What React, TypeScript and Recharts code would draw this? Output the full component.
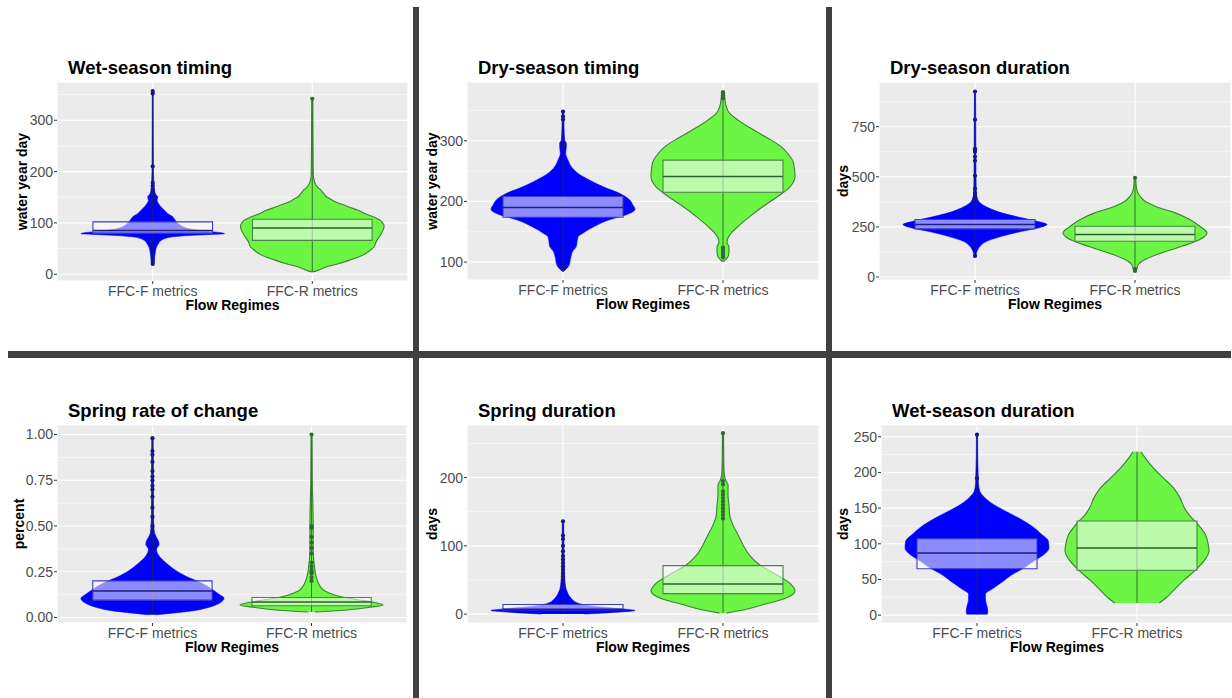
import React from 'react';
import {
  ComposedChart,
  Area,
  XAxis,
  YAxis,
  CartesianGrid,
  ReferenceArea,
  ReferenceLine,
  Scatter,
} from 'recharts';

// ---------------- shared ----------------
const CATEGORIES = ['FFC-F metrics', 'FFC-R metrics'];
const X_TITLE = 'Flow Regimes';

// ---------------- panel 1: Wet-season timing ----------------
const p1Ticks = [0, 100, 200, 300];
const p1TickLabels = ['0', '100', '200', '300'];
const p1Minor = [50, 150, 250, 350];
const p1Domain = [-13.2, 374.6];
const p1F_y = [18, 24, 32, 42, 52, 60, 66, 70, 73, 75.5, 77.5, 79, 80.5, 82.5, 85, 88, 92, 97, 102, 108, 113, 118, 125, 132, 138, 143, 147, 151, 155, 160, 168, 180, 200, 250, 300, 357];
const p1F_w = [0.01, 0.02, 0.025, 0.035, 0.05, 0.08, 0.12, 0.18, 0.28, 0.5, 0.8, 1.0, 0.97, 0.85, 0.66, 0.52, 0.43, 0.37, 0.33, 0.3, 0.27, 0.21, 0.16, 0.11, 0.08, 0.06, 0.065, 0.07, 0.045, 0.03, 0.02, 0.015, 0.01, 0.008, 0.007, 0.006];
const p1R_y = [4.5, 6, 10, 14, 20, 27, 34, 40, 47, 53, 60, 66, 72, 79, 87, 95, 100, 105, 110, 118, 125, 131, 136, 141, 146, 150, 157, 164, 170, 177, 185, 195, 220, 260, 300, 342];
const p1R_w = [0, 0.05, 0.12, 0.19, 0.35, 0.51, 0.65, 0.74, 0.81, 0.86, 0.88, 0.9, 0.93, 0.96, 0.99, 1.0, 0.98, 0.95, 0.88, 0.74, 0.63, 0.51, 0.42, 0.32, 0.26, 0.21, 0.16, 0.12, 0.07, 0.04, 0.023, 0.014, 0.012, 0.01, 0.009, 0.007];
const p1F_box = [80, 85, 102];
const p1R_box = [66, 90, 107];
const p1F_out = [20, 24, 30, 140, 143, 147, 150, 153, 157, 165, 172, 178, 210, 352, 357];
const p1R_out = [342];

// ---------------- panel 2: Dry-season timing ----------------
const p2Ticks = [100, 200, 300];
const p2TickLabels = ['100', '200', '300'];
const p2Minor = [150, 250, 350];
const p2Domain = [70.5, 396.8];
const p2F_y = [85, 90, 98, 104, 109, 117, 126, 134, 142, 148, 159, 170, 178, 187, 194, 202, 213, 224, 235, 246, 257, 268, 279, 290, 296, 301, 323, 348];
const p2F_w = [0.01, 0.056, 0.093, 0.1, 0.11, 0.13, 0.185, 0.195, 0.21, 0.28, 0.44, 0.65, 0.88, 1.0, 0.97, 0.93, 0.79, 0.56, 0.37, 0.21, 0.116, 0.07, 0.037, 0.046, 0.046, 0.023, 0.014, 0.01];
const p2R_y = [101, 104, 109, 117, 126, 132, 140, 148, 159, 175, 192, 208, 224, 241, 263, 279, 290, 301, 312, 323, 334, 345, 356, 367, 382];
const p2R_w = [0.01, 0.037, 0.07, 0.083, 0.083, 0.056, 0.07, 0.116, 0.21, 0.37, 0.56, 0.76, 0.93, 1.0, 0.98, 0.9, 0.81, 0.67, 0.51, 0.35, 0.21, 0.093, 0.046, 0.028, 0.018];
const p2F_box = [174, 190, 208];
const p2R_box = [215, 241, 268];
const p2F_out = [88, 92, 290, 294, 298, 335, 340, 348];
const p2R_out = [108, 112, 116, 120, 124, 370, 375, 380];

// ---------------- panel 3: Dry-season duration ----------------
const p3Ticks = [0, 250, 500, 750];
const p3TickLabels = ['0', '250', '500', '750'];
const p3Minor = [125, 375, 625, 875];
const p3Domain = [-15, 973];
const p3F_y = [103, 128, 153, 178, 203, 228, 245, 262, 278, 295, 320, 345, 370, 387, 420, 503, 637, 787, 925];
const p3F_w = [0.012, 0.028, 0.07, 0.16, 0.37, 0.65, 0.88, 1.0, 0.86, 0.65, 0.37, 0.185, 0.07, 0.037, 0.018, 0.014, 0.012, 0.01, 0.008];
const p3R_y = [28, 37, 62, 87, 120, 153, 187, 220, 253, 287, 320, 353, 378, 403, 437, 470, 495];
const p3R_w = [0.01, 0.023, 0.046, 0.14, 0.37, 0.65, 0.9, 1.0, 0.9, 0.76, 0.56, 0.28, 0.14, 0.07, 0.023, 0.014, 0.01];
const p3F_box = [240, 262, 287];
const p3R_box = [178, 212, 253];
const p3F_out = [105, 380, 392, 405, 420, 440, 505, 580, 600, 625, 635, 640, 785, 925];
const p3R_out = [30, 40, 495];

// ---------------- panel 4: Spring rate of change ----------------
const p4Ticks = [0, 0.25, 0.5, 0.75, 1];
const p4TickLabels = ['0.00', '0.25', '0.50', '0.75', '1.00'];
const p4Minor = [0.125, 0.375, 0.625, 0.875];
const p4Domain = [-0.03, 1.052];
const p4F_y = [0.015, 0.025, 0.036, 0.055, 0.082, 0.105, 0.127, 0.155, 0.191, 0.227, 0.264, 0.3, 0.336, 0.373, 0.4, 0.418, 0.445, 0.473, 0.58, 0.76, 0.98];
const p4F_w = [0.05, 0.3, 0.55, 0.78, 0.95, 1.0, 0.93, 0.83, 0.67, 0.46, 0.3, 0.185, 0.093, 0.056, 0.093, 0.083, 0.046, 0.023, 0.014, 0.014, 0.01];
const p4R_y = [0.03, 0.04, 0.055, 0.069, 0.082, 0.1, 0.118, 0.145, 0.173, 0.2, 0.236, 0.29, 0.364, 0.5, 0.76, 1.0];
const p4R_w = [0.05, 0.46, 0.79, 1.0, 0.88, 0.6, 0.37, 0.185, 0.116, 0.083, 0.056, 0.037, 0.023, 0.023, 0.01, 0.007];
const p4F_box = [0.095, 0.145, 0.2];
const p4R_box = [0.064, 0.085, 0.109];
const p4F_out = [0.4, 0.42, 0.44, 0.47, 0.5, 0.55, 0.6, 0.66, 0.7, 0.72, 0.75, 0.77, 0.8, 0.85, 0.89, 0.91, 0.98];
const p4R_out = [0.2, 0.22, 0.24, 0.25, 0.26, 0.28, 0.3, 0.35, 0.38, 0.41, 0.44, 0.49, 0.5, 1.0];

// ---------------- panel 5: Spring duration ----------------
const p5Ticks = [0, 100, 200];
const p5TickLabels = ['0', '100', '200'];
const p5Minor = [50, 150, 250];
const p5Domain = [-13, 277];
const p5F_y = [0, 2.5, 5.3, 8, 11, 16, 23, 33, 45, 60, 80, 100, 136];
const p5F_w = [0.3, 0.7, 1.0, 0.79, 0.46, 0.21, 0.116, 0.056, 0.03, 0.02, 0.015, 0.012, 0.01];
const p5R_y = [1.5, 6, 14, 23, 34, 45, 58, 72, 86, 101, 116, 130, 145, 160, 174, 189, 196, 210, 265];
const p5R_w = [0.05, 0.28, 0.56, 0.86, 1.0, 0.93, 0.74, 0.51, 0.37, 0.28, 0.21, 0.14, 0.093, 0.083, 0.07, 0.07, 0.037, 0.014, 0.007];
const p5F_box = [6, 7, 14];
const p5R_box = [30, 44, 71];
const p5F_out = [40, 45, 50, 55, 60, 65, 70, 75, 80, 85, 92, 100, 110, 115, 136];
const p5R_out = [140, 145, 150, 155, 160, 165, 170, 175, 180, 190, 195, 265];

// ---------------- panel 6: Wet-season duration ----------------
const p6Ticks = [0, 50, 100, 150, 200, 250];
const p6TickLabels = ['0', '50', '100', '150', '200', '250'];
const p6Minor = [25, 75, 125, 175, 225];
const p6Domain = [-11, 266.5];
const p6F_y = [1, 5, 12, 20, 29, 38, 48, 57, 66, 76, 85, 94, 104, 113, 125, 136, 146, 155, 164, 174, 185, 192, 220, 253];
const p6F_w = [0.14, 0.15, 0.14, 0.12, 0.116, 0.23, 0.37, 0.49, 0.65, 0.79, 0.93, 1.0, 0.99, 0.9, 0.76, 0.58, 0.39, 0.23, 0.116, 0.037, 0.02, 0.018, 0.01, 0.008];
const p6R_y = [17, 24, 34, 48, 62, 76, 90, 99, 113, 127, 141, 150, 164, 178, 192, 206, 220, 229];
const p6R_w = [0.31, 0.4, 0.5, 0.64, 0.8, 0.93, 1.0, 0.99, 0.95, 0.85, 0.72, 0.66, 0.6, 0.51, 0.37, 0.23, 0.116, 0.056];
const p6F_box = [65, 87, 107];
const p6R_box = [63, 94, 132];
const p6F_out = [192, 253];
const p6R_out: number[] = [];

// ---------------- styling ----------------
const FONT = '"Liberation Sans", Arial, Helvetica, sans-serif';
const HALF = 0.45; // violin half width at max density
const BOX_HALF = 0.375;
const YW = 60;
const XH = 34;

const F_STYLE = {
  fill: '#0000FF',
  edge: '#0000FF',
  edgeWidth: 0.6,
  box: '#3B3BC4',
  median: '#1E1E80',
  whisker: '#1C1C70',
  point: '#16168A',
};
const R_STYLE = {
  fill: '#6CF545',
  edge: '#3A8231',
  edgeWidth: 1.1,
  box: '#4A854A',
  median: '#2B612B',
  whisker: '#367332',
  point: '#2E6B2E',
};

type Panel = {
  title: string;
  yTitle: string;
  yTitleOffset: number;
  left: number;
  top: number;
  w: number;
  h: number;
  domain: number[];
  ticks: number[];
  tickLabels: string[];
  minor: number[];
  fY: number[];
  fW: number[];
  rY: number[];
  rW: number[];
  fBox: number[];
  rBox: number[];
  fOut: number[];
  rOut: number[];
};

const panels: Panel[] = [
  { title: 'Wet-season timing', yTitle: 'water year day', yTitleOffset: 35, left: 57, top: 82, w: 351, h: 199, domain: p1Domain, ticks: p1Ticks, tickLabels: p1TickLabels, minor: p1Minor, fY: p1F_y, fW: p1F_w, rY: p1R_y, rW: p1R_w, fBox: p1F_box, rBox: p1R_box, fOut: p1F_out, rOut: p1R_out },
  { title: 'Dry-season timing', yTitle: 'water year day', yTitleOffset: 35, left: 467, top: 82, w: 352, h: 198, domain: p2Domain, ticks: p2Ticks, tickLabels: p2TickLabels, minor: p2Minor, fY: p2F_y, fW: p2F_w, rY: p2R_y, rW: p2R_w, fBox: p2F_box, rBox: p2R_box, fOut: p2F_out, rOut: p2R_out },
  { title: 'Dry-season duration', yTitle: 'days', yTitleOffset: 36, left: 879, top: 82, w: 352, h: 198, domain: p3Domain, ticks: p3Ticks, tickLabels: p3TickLabels, minor: p3Minor, fY: p3F_y, fW: p3F_w, rY: p3R_y, rW: p3R_w, fBox: p3F_box, rBox: p3R_box, fOut: p3F_out, rOut: p3R_out },
  { title: 'Spring rate of change', yTitle: 'percent', yTitleOffset: 38, left: 57, top: 425, w: 350, h: 198, domain: p4Domain, ticks: p4Ticks, tickLabels: p4TickLabels, minor: p4Minor, fY: p4F_y, fW: p4F_w, rY: p4R_y, rW: p4R_w, fBox: p4F_box, rBox: p4R_box, fOut: p4F_out, rOut: p4R_out },
  { title: 'Spring duration', yTitle: 'days', yTitleOffset: 35, left: 467, top: 425, w: 352, h: 198, domain: p5Domain, ticks: p5Ticks, tickLabels: p5TickLabels, minor: p5Minor, fY: p5F_y, fW: p5F_w, rY: p5R_y, rW: p5R_w, fBox: p5F_box, rBox: p5R_box, fOut: p5F_out, rOut: p5R_out },
  { title: 'Wet-season duration', yTitle: 'days', yTitleOffset: 38, left: 881, top: 425, w: 352, h: 198, domain: p6Domain, ticks: p6Ticks, tickLabels: p6TickLabels, minor: p6Minor, fY: p6F_y, fW: p6F_w, rY: p6R_y, rW: p6R_w, fBox: p6F_box, rBox: p6R_box, fOut: p6F_out, rOut: p6R_out },
];

function buildRows(p: Panel) {
  const map = new Map<number, any>();
  const put = (ys: number[], ws: number[], key: string, pos: number) => {
    ys.forEach((y, i) => {
      const row = map.get(y) ?? { y, f: [null, null], r: [null, null] };
      row[key] = [pos - HALF * ws[i], pos + HALF * ws[i]];
      map.set(y, row);
    });
  };
  put(p.fY, p.fW, 'f', 1);
  put(p.rY, p.rW, 'r', 2);
  return Array.from(map.values()).sort((a, b) => a.y - b.y);
}

const dot = (color: string) => (props: any) =>
  props.cx == null || props.cy == null ? <g /> : <circle cx={props.cx} cy={props.cy} r={2.1} fill={color} />;

function ViolinPanel({ p }: { p: Panel }) {
  const rows = buildRows(p);
  const fOut = p.fOut.map((y) => ({ x: 1, y }));
  const rOut = p.rOut.map((y) => ({ x: 2, y }));
  const tickFmt = (v: number) => {
    const i = p.ticks.indexOf(v);
    return i >= 0 ? p.tickLabels[i] : String(v);
  };
  const groups = [
    { key: 'f', pos: 1, ys: p.fY, box: p.fBox, s: F_STYLE },
    { key: 'r', pos: 2, ys: p.rY, box: p.rBox, s: R_STYLE },
  ];
  return (
    <div style={{ position: 'absolute', left: p.left - YW, top: p.top }}>
      <ComposedChart
        layout="vertical"
        width={YW + p.w}
        height={p.h + XH}
        data={rows}
        margin={{ top: 0, right: 0, bottom: 0, left: 0 }}
      >
        <CartesianGrid fill="#EBEBEB" fillOpacity={1} stroke="#FFFFFF" strokeWidth={1.1} />
        <CartesianGrid horizontalValues={p.minor} vertical={false} stroke="#FFFFFF" strokeWidth={0.55} />
        <XAxis
          type="number"
          dataKey="x"
          domain={[0.4, 2.6]}
          ticks={[1, 2]}
          allowDataOverflow
          interval={0}
          height={XH}
          tickSize={3}
          tickMargin={2}
          axisLine={false}
          tickLine={{ stroke: '#333333' }}
          tick={{ fill: '#4D4D4D', fontSize: 14, fontFamily: FONT }}
          tickFormatter={(v: number) => CATEGORIES[v - 1]}
        />
        <YAxis
          type="number"
          dataKey="y"
          domain={p.domain}
          ticks={p.ticks}
          allowDataOverflow
          reversed
          interval={0}
          width={YW}
          tickSize={3}
          tickMargin={1}
          axisLine={false}
          tickLine={{ stroke: '#333333' }}
          tick={{ fill: '#4D4D4D', fontSize: 14, fontFamily: FONT }}
          tickFormatter={tickFmt}
        />
        {groups.map((g) => (
          <Area
            key={'v' + g.key}
            dataKey={g.key}
            type="monotone"
            connectNulls
            fill={g.s.fill}
            fillOpacity={1}
            stroke={g.s.edge}
            strokeWidth={g.s.edgeWidth}
            dot={false}
            activeDot={false}
            isAnimationActive={false}
          />
        ))}
        {groups.map((g) => (
          <ReferenceLine
            key={'w' + g.key}
            segment={[
              { x: g.pos, y: g.ys[0] },
              { x: g.pos, y: g.ys[g.ys.length - 1] },
            ]}
            stroke={g.s.whisker}
            strokeWidth={1}
            zIndex={120}
          />
        ))}
        {groups.map((g) => (
          <ReferenceArea
            key={'b' + g.key}
            x1={g.pos - BOX_HALF}
            x2={g.pos + BOX_HALF}
            y1={g.box[0]}
            y2={g.box[2]}
            fill="#FFFFFF"
            fillOpacity={0.55}
            stroke={g.s.box}
            strokeWidth={1.1}
            strokeOpacity={1}
            zIndex={150}
          />
        ))}
        {groups.map((g) => (
          <ReferenceLine
            key={'m' + g.key}
            segment={[
              { x: g.pos - BOX_HALF, y: g.box[1] },
              { x: g.pos + BOX_HALF, y: g.box[1] },
            ]}
            stroke={g.s.median}
            strokeWidth={1.5}
            zIndex={160}
          />
        ))}
        <Scatter data={fOut} shape={dot(F_STYLE.point)} isAnimationActive={false} />
        <Scatter data={rOut} shape={dot(R_STYLE.point)} isAnimationActive={false} />
      </ComposedChart>
    </div>
  );
}

export default function App() {
  return (
    <div
      style={{
        position: 'absolute',
        left: 0,
        top: 0,
        width: 1232,
        height: 698,
        background: '#FFFFFF',
        overflow: 'hidden',
        fontFamily: FONT,
      }}
    >
      {panels.map((p, i) => (
        <ViolinPanel key={i} p={p} />
      ))}
      <svg
        width={1232}
        height={698}
        style={{ position: 'absolute', left: 0, top: 0, pointerEvents: 'none' }}
      >
        {panels.map((p, i) => (
          <g key={i} fontFamily={FONT}>
            <text x={p.left + 11} y={p.top - 8.5} fontSize={18.5} fontWeight="bold" fill="#000000">
              {p.title}
            </text>
            <text
              x={p.left - p.yTitleOffset}
              y={p.top + p.h / 2}
              fontSize={14}
              fontWeight="bold"
              fill="#000000"
              textAnchor="middle"
              dy="0.35em"
              transform={`rotate(-90 ${p.left - p.yTitleOffset} ${p.top + p.h / 2})`}
            >
              {p.yTitle}
            </text>
            <text
              x={p.left + p.w / 2}
              y={p.top + p.h + 29}
              fontSize={14}
              fontWeight="bold"
              fill="#000000"
              textAnchor="middle"
            >
              {X_TITLE}
            </text>
          </g>
        ))}
        <rect x={413} y={7} width={6} height={691} fill="#404040" />
        <rect x={826} y={7} width={6} height={691} fill="#404040" />
        <rect x={8} y={351} width={1223} height={7} fill="#404040" />
      </svg>
    </div>
  );
}
